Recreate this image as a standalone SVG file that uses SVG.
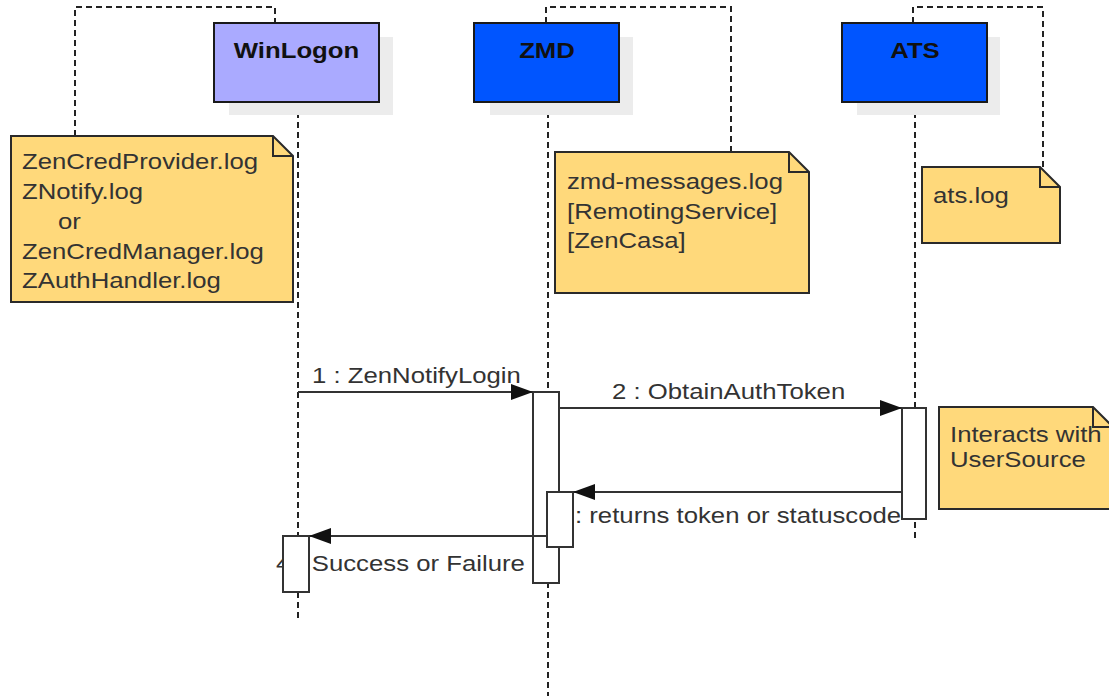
<svg xmlns="http://www.w3.org/2000/svg" width="1109" height="696" viewBox="0 0 1109 696">
<style>
.bg{fill:#ffffff}
.dash{fill:none;stroke:#222;stroke-width:2;stroke-dasharray:6 4}
.shadow{fill:#ececec}
.box{stroke:#1a1a1a;stroke-width:2}
.blue{fill:#0055ff}
.lilac{fill:#aaaaff}
.title{font-family:"Liberation Sans",Arial,sans-serif;font-size:22px;font-weight:bold;fill:#111;text-anchor:middle}
.note{fill:#ffd97b;stroke:#2a2a2a;stroke-width:2;stroke-linejoin:miter}
.fold{fill:none;stroke:#2a2a2a;stroke-width:2}
.t{font-family:"Liberation Sans",Arial,sans-serif;font-size:22px;fill:#333}
.act{fill:#ffffff;stroke:#333;stroke-width:2}
.msg{fill:none;stroke:#333;stroke-width:2;marker-end:url(#ah)}
</style>
<defs>
<marker id="ah" markerUnits="userSpaceOnUse" markerWidth="22" markerHeight="16" refX="22" refY="8" orient="auto">
<path d="M0,0 L22,8 L0,16 Z" fill="#111"/>
</marker>
</defs>
<rect class="bg" x="0" y="0" width="1109" height="696"/>

<g id="frames">
<path class="dash" d="M75,136 V7 H275 V23"/>
<path class="dash" d="M546,23 V7 H731 V152"/>
<path class="dash" d="M913,23 V7 H1043 V167"/>
</g>

<g id="lifelines">
<path class="dash" d="M298,102 V618"/>
<path class="dash" d="M548,102 V696"/>
<path class="dash" d="M915,102 V538"/>
</g>

<g id="WinLogon">
<rect class="shadow" x="229" y="37" width="164" height="78"/>
<rect class="box lilac" x="214" y="23" width="165" height="79"/>
<text class="title" transform="translate(296.5,58) scale(1.17,1)">WinLogon</text>
</g>

<g id="ZMD">
<rect class="shadow" x="490" y="37" width="143" height="78"/>
<rect class="box blue" x="474" y="23" width="145" height="79"/>
<text class="title" transform="translate(547,58) scale(1.17,1)">ZMD</text>
</g>

<g id="ATS">
<rect class="shadow" x="857" y="37" width="143" height="78"/>
<rect class="box blue" x="842" y="23" width="145" height="79"/>
<text class="title" transform="translate(915,58) scale(1.17,1)">ATS</text>
</g>

<g id="note-winlogon">
<path class="note" d="M11,136 H273 L293,156 V302 H11 Z"/>
<path class="fold" d="M273,136 V156 H293"/>
<text class="t" transform="translate(22,169) scale(1.17,1)">ZenCredProvider.log</text>
<text class="t" transform="translate(22,199) scale(1.17,1)">ZNotify.log</text>
<text class="t" transform="translate(58,229) scale(1.17,1)">or</text>
<text class="t" transform="translate(22,259) scale(1.17,1)">ZenCredManager.log</text>
<text class="t" transform="translate(22,288) scale(1.17,1)">ZAuthHandler.log</text>
</g>

<g id="note-zmd">
<path class="note" d="M555,152 H789 L809,172 V293 H555 Z"/>
<path class="fold" d="M789,152 V172 H809"/>
<text class="t" transform="translate(567,189) scale(1.17,1)">zmd-messages.log</text>
<text class="t" transform="translate(567,219) scale(1.17,1)">[RemotingService]</text>
<text class="t" transform="translate(567,248) scale(1.17,1)">[ZenCasa]</text>
</g>

<g id="note-ats">
<path class="note" d="M922,167 H1040 L1060,187 V243 H922 Z"/>
<path class="fold" d="M1040,167 V187 H1060"/>
<text class="t" transform="translate(933,203) scale(1.17,1)">ats.log</text>
</g>

<g id="note-usersource">
<path class="note" d="M939,407 H1093 L1113,427 V509 H939 Z"/>
<path class="fold" d="M1093,407 V427 H1113"/>
<text class="t" transform="translate(950,442) scale(1.17,1)">Interacts with</text>
<text class="t" transform="translate(950,467) scale(1.17,1)">UserSource</text>
</g>

<g id="labels">
<text class="t" transform="translate(312,383) scale(1.17,1)">1 : ZenNotifyLogin</text>
<text class="t" transform="translate(612,399) scale(1.17,1)">2 : ObtainAuthToken</text>
<text class="t" transform="translate(575,523) scale(1.17,1)">: returns token or statuscode</text>
<text class="t" transform="translate(276,571) scale(1.17,1)">4 : Success or Failure</text>
</g>

<g id="activations">
<rect class="act" x="533" y="392" width="26" height="191"/>
<rect class="act" x="902" y="408" width="24" height="111"/>
<rect class="act" x="547" y="492" width="26" height="55"/>
<rect class="act" x="283" y="536" width="26" height="56"/>
</g>

<g id="connectors">
<path class="msg" d="M298,392 H533"/>
<path class="msg" d="M559,408 H902"/>
<path class="msg" d="M902,492 H573"/>
<path class="msg" d="M547,536 H309"/>
</g>
</svg>
